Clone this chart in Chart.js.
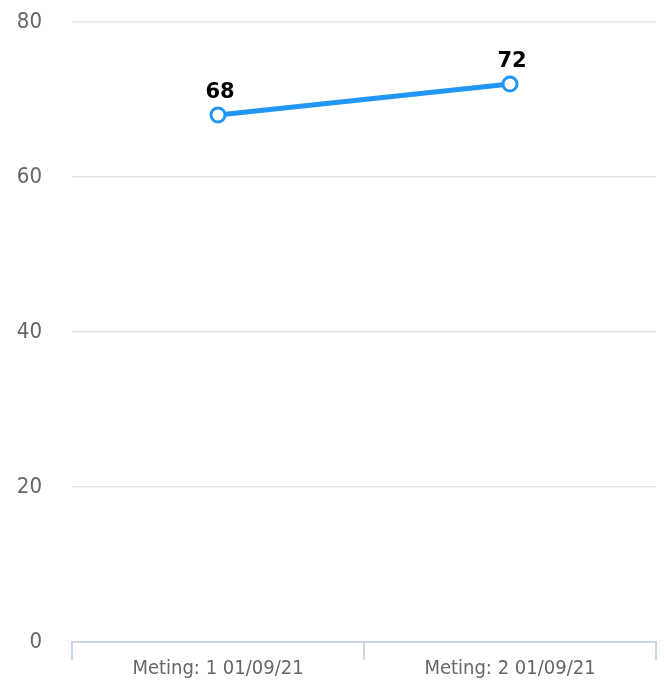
<!DOCTYPE html>
<html>
<head>
<meta charset="utf-8">
<script src="https://cdn.jsdelivr.net/npm/chart.js@4/dist/chart.umd.min.js"></script>
<style>
  html, body { margin: 0; padding: 0; background: #fff; }
  #wrap { width: 664px; height: 682px; position: relative; }
</style>
</head>
<body>
<div id="wrap"><canvas id="c"></canvas></div>
<script>
const categories = ["Meting: 1 01/09/21", "Meting: 2 01/09/21"];
const seriesValues = [68, 72];
const yTicks = [0, 20, 40, 60, 80];

const valueLabels = {
  id: 'valueLabels',
  afterDatasetsDraw(chart) {
    const ctx = chart.ctx;
    const meta = chart.getDatasetMeta(0);
    ctx.save();
    ctx.font = 'bold 21px "DejaVu Sans"';
    ctx.fillStyle = '#000';
    ctx.textAlign = 'center';
    ctx.textBaseline = 'alphabetic';
    meta.data.forEach((pt, i) => {
      ctx.fillText(String(seriesValues[i]), pt.x + 2, pt.y - 17);
    });
    ctx.restore();
  }
};

new Chart(document.getElementById('c'), {
  type: 'line',
  data: {
    labels: categories,
    datasets: [{
      data: seriesValues,
      borderColor: '#2196f3',
      borderWidth: 5,
      pointRadius: 7,
      pointBorderWidth: 3,
      pointBackgroundColor: '#ffffff',
      pointBorderColor: '#2196f3',
      tension: 0,
      fill: false
    }]
  },
  options: {
    responsive: true,
    maintainAspectRatio: false,
    animation: false,
    layout: { autoPadding: false, padding: { top: 22, right: 8, left: 0, bottom: 0 } },
    plugins: { legend: { display: false }, tooltip: { enabled: false } },
    scales: {
      x: {
        offset: true,
        grid: {
          offset: true,
          drawOnChartArea: false,
          drawTicks: true,
          tickLength: 18,
          color: '#ccd6eb',
          lineWidth: 2
        },
        border: { display: true, color: '#ccd6eb', width: 2 },
        ticks: {
          color: '#666666',
          font: { family: '"DejaVu Sans Condensed"', size: 20 },
          padding: -3,
          maxRotation: 0
        },
        afterFit(axis) {
          axis.height = 40;
          axis.paddingLeft = 0; axis.paddingRight = 0;
        }
      },
      y: {
        min: 0,
        max: 80,
        afterBuildTicks(axis) { axis.ticks = yTicks.map(v => ({ value: v })); },
        grid: { color: '#e6e6e6', lineWidth: 1.5, drawTicks: false },
        border: { display: false },
        ticks: {
          color: '#666666',
          font: { family: '"DejaVu Sans Condensed"', size: 22 },
          padding: 30
        },
        afterFit(axis) {
          axis.width = 72;
          axis.paddingTop = 0; axis.paddingBottom = 0;
        }
      }
    }
  },
  plugins: [valueLabels]
});
</script>
</body>
</html>
